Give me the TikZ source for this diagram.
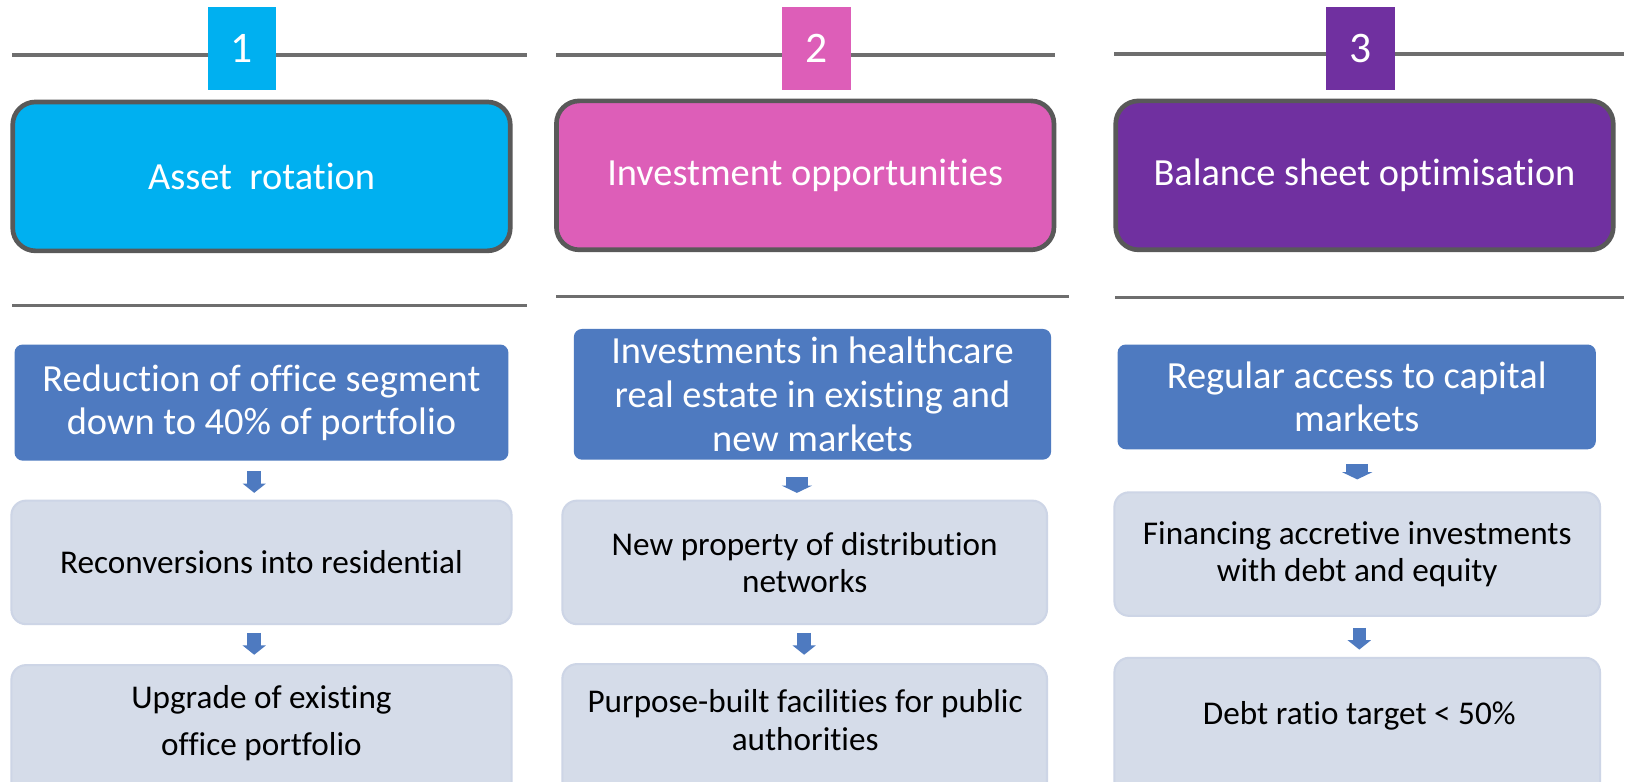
\documentclass[tikz,border=0pt]{standalone}
\usepackage{fontspec}
\setmainfont{Carlito}[Ligatures=NoCommon]
\usetikzlibrary{arrows.meta}
\definecolor{cyanc}{HTML}{00B0F0}
\definecolor{pinkc}{HTML}{DD5EB8}
\definecolor{purpc}{HTML}{7030A0}
\definecolor{bordc}{HTML}{595959}
\definecolor{rulec}{HTML}{6E6E6E}
\definecolor{bluec}{HTML}{4E7AC0}
\definecolor{litec}{HTML}{D5DCE9}
\definecolor{litebord}{HTML}{CDD5E6}
\begin{document}
\begin{tikzpicture}[x=1pt,y=-1pt,
  rule/.style={draw=rulec, line width=3pt},
  numbox/.style={fill=#1, text=white, inner sep=0pt, minimum width=66pt, minimum height=80pt, font=\fontsize{42}{48}\selectfont},
  hdr/.style={fill=#1, draw=bordc, line width=4.5pt, rounded corners=22pt, text=white, inner sep=0pt, minimum width=479.5pt, minimum height=143.5pt, font=\fontsize{37}{44}\selectfont},
  bluebox/.style={fill=bluec, rounded corners=8pt, text=white, inner sep=0pt, align=center, font=\fontsize{37}{42}\selectfont},
  lite/.style={fill=litec, draw=litebord, line width=2pt, rounded corners=14pt, inner sep=0pt, text=black, align=center, font=\fontsize{32}{36}\selectfont},
  litetext/.style={text=black, align=center, inner sep=0pt, font=\fontsize{32}{36}\selectfont},
  blockarr/.style={draw=bluec, line width=13pt, -{Triangle[width=22pt,length=9pt]}},
  flatarr/.style={draw=bluec, line width=21pt, -{Triangle[width=29pt,length=7pt]}}
]
\useasboundingbox (0,0) rectangle (1568,753);
\fill[white] (0,0) rectangle (1568,753);
\clip (0,0) rectangle (1568,753);

% ---------- column 1 ----------
\draw[rule] (12,53) -- (508,53);
\node[numbox=cyanc] (n1) at (233,47) {1};
\node[hdr=cyanc] (h1) at (252,170) {Asset\ \ rotation};
\draw[rule] (12,294) -- (508,294);
\node[bluebox, minimum width=476pt, minimum height=112pt] (b1) at (252,388) {Reduction of office segment\\down to 40\% of portfolio};
\node[lite, minimum width=482pt, minimum height=119pt] (c1) at (252,542) {Reconversions into residential};
\node[lite, minimum width=482pt, minimum height=160pt] (d1) at (252,721) {};
\node[litetext, font=\fontsize{32}{46}\selectfont] (d1t) at (252,697) {Upgrade of existing\\office portfolio};
\coordinate (a1s) at (245,454);
\coordinate (a1e) at (245,475);
\coordinate (a2s) at (245,610);
\coordinate (a2e) at (245,631);
\draw[blockarr] (a1s) -- (a1e);
\draw[blockarr] (a2s) -- (a2e);

% ---------- column 2 ----------
\draw[rule] (536,53) -- (1017,53);
\node[numbox=pinkc] (n2) at (787,47) {2};
\node[hdr=pinkc] (h2) at (776,169) {Investment opportunities};
\draw[rule] (536,286) -- (1030,286);
\node[bluebox, minimum width=460pt, minimum height=126pt] (b2) at (783,380) {Investments in healthcare\\real estate in existing and\\new markets};
\node[lite, minimum width=467pt, minimum height=119pt] (c2) at (775.5,542) {New property of distribution\\networks};
\node[lite, minimum width=467pt, minimum height=160pt] (d2) at (775.5,720) {};
\node[litetext] (d2t) at (776,694) {Purpose-built facilities for public\\authorities};
\coordinate (a3s) at (768,460);
\coordinate (a3e) at (768,475);
\coordinate (a4s) at (775,610);
\coordinate (a4e) at (775,631);
\draw[flatarr] (a3s) -- (a3e);
\draw[blockarr] (a4s) -- (a4e);

% ---------- column 3 ----------
\draw[rule] (1074,52) -- (1565,52);
\node[numbox=purpc] (n3) at (1311,47) {3};
\node[hdr=purpc] (h3) at (1315,169) {Balance sheet optimisation};
\draw[rule] (1075,287) -- (1565,287);
\node[bluebox, minimum width=461pt, minimum height=101pt] (b3) at (1307.5,382.5) {Regular access to capital\\markets};
\node[lite, minimum width=468pt, minimum height=119pt] (c3) at (1308,534) {Financing accretive investments\\with debt and equity};
\node[lite, minimum width=468pt, minimum height=160pt] (d3) at (1308,714) {};
\node[litetext] (d3t) at (1310,690) {Debt ratio target < 50\%};
\coordinate (a5s) at (1308,447);
\coordinate (a5e) at (1308,462);
\coordinate (a6s) at (1310,605);
\coordinate (a6e) at (1310,626);
\draw[flatarr] (a5s) -- (a5e);
\draw[blockarr] (a6s) -- (a6e);
\end{tikzpicture}
\end{document}
